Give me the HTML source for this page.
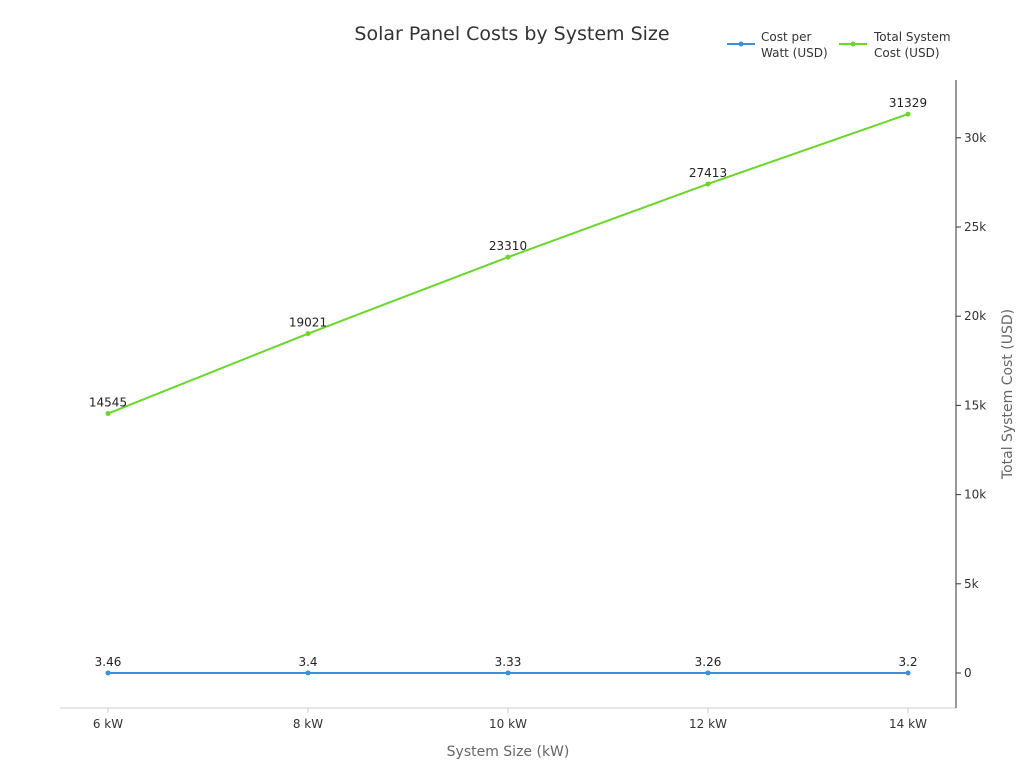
<!DOCTYPE html>
<html><head><meta charset="utf-8"><style>
body{margin:0;background:#fff;font-family:"Liberation Sans","DejaVu Sans",sans-serif}
svg text{font-family:"DejaVu Sans","Liberation Sans",sans-serif}
</style></head><body>
<svg id="chart" width="1024" height="768" xmlns="http://www.w3.org/2000/svg">
<text x="512" y="40" text-anchor="middle" font-size="19" fill="#333">Solar Panel Costs by System Size</text>
<g>
<g>
<line x1="727" y1="44" x2="755" y2="44" stroke="#3b8fe0" stroke-width="2"/><circle cx="741" cy="44" r="2.5" fill="#3b8fe0"/>
<text x="761" y="41" font-size="12" fill="#333">Cost per</text><text x="761" y="57" font-size="12" fill="#333">Watt (USD)</text></g>
<g>
<line x1="839" y1="44" x2="867" y2="44" stroke="#6ad62a" stroke-width="2"/><circle cx="853" cy="44" r="2.5" fill="#6ad62a"/>
<text x="874" y="41" font-size="12" fill="#333">Total System</text><text x="874" y="57" font-size="12" fill="#333">Cost (USD)</text></g>
</g>
<line x1="60" y1="708" x2="956" y2="708" stroke="#ccc"/>
<line x1="956" y1="80" x2="956" y2="708" stroke="#333"/>
<text x="508" y="756" text-anchor="middle" font-size="14" fill="#666">System Size (kW)</text>
<text transform="translate(1012,394) rotate(-90)" text-anchor="middle" font-size="14" fill="#666">Total System Cost (USD)</text>
<g id="marks"></g>
</svg>
<script>
const categories=["6 kW","8 kW","10 kW","12 kW","14 kW"];
const sizes=[6,8,10,12,14];
const costPerWatt=[3.46,3.4,3.33,3.26,3.2];
const totalCost=[14545,19021,23310,27413,31329];
const yTicks=[0,5000,10000,15000,20000,25000,30000];
const yTickLabels=["0","5k","10k","15k","20k","25k","30k"];
const NS="http://www.w3.org/2000/svg";
const g=document.getElementById('marks');
const xs=v=>108+(v-6)*100;
const ys=v=>673-v*(89.2/5000);
function mk(t,a,txt){const e=document.createElementNS(NS,t);for(const k in a)e.setAttribute(k,a[k]);if(txt!=null)e.textContent=txt;g.appendChild(e);return e;}
yTicks.forEach((v,i)=>{
const t=mk('line',{x1:956,y1:ys(v),x2:961,y2:ys(v),stroke:'#333'});


const l=mk('text',{x:964,y:ys(v)+4,'font-size':12,fill:'#333'},yTickLabels[i]);


});
categories.forEach((c,i)=>{
const t=mk('line',{x1:xs(sizes[i]),y1:708,x2:xs(sizes[i]),y2:713,stroke:'#ccc'});


const l=mk('text',{x:xs(sizes[i]),y:728,'font-size':12,fill:'#333','text-anchor':'middle'},c);


});
function series(vals,color,name){
const p=mk('polyline',{points:vals.map((v,i)=>xs(sizes[i])+','+ys(v)).join(' '),fill:'none',stroke:color,'stroke-width':2});


vals.forEach((v,i)=>{
const c=mk('circle',{cx:xs(sizes[i]),cy:ys(v),r:2.5,fill:color});


const l=mk('text',{x:xs(sizes[i]),y:ys(v)-7,'font-size':12,fill:'#222','text-anchor':'middle'},String(v));


});
}
series(costPerWatt,'#3b8fe0','cost-per-watt');
series(totalCost,'#6ad62a','total-cost');
</script>
</body></html>
